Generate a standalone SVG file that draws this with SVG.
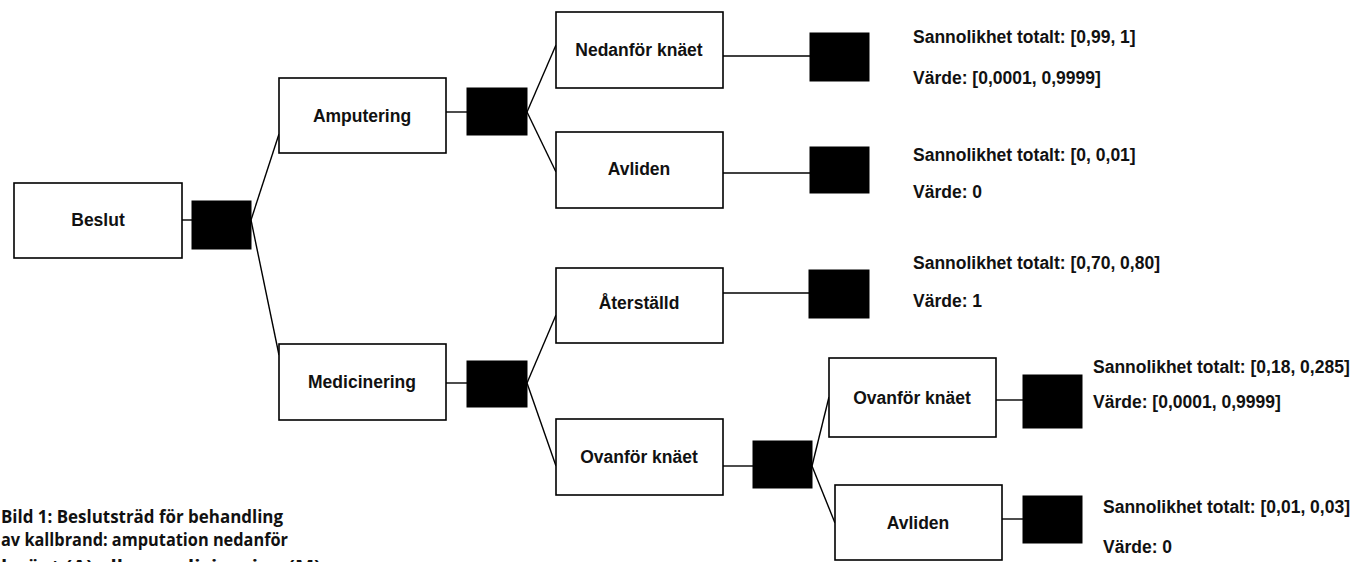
<svg xmlns="http://www.w3.org/2000/svg" width="1359" height="562" viewBox="0 0 1359 562">
<style>
.box{fill:#fff;stroke:#000;stroke-width:1.6}
.sq{fill:#000;stroke:#000;stroke-width:1}
.lbl{font-family:"Liberation Sans",Arial,sans-serif;font-weight:bold;font-size:17.5px;fill:#111;text-anchor:middle}
.info{font-family:"Liberation Sans",Arial,sans-serif;font-weight:bold;font-size:17.5px;fill:#111}
.cap{font-family:"Open Sans","Noto Sans",sans-serif;font-weight:bold;font-size:18.5px;fill:#111}
.con{stroke:#000;stroke-width:1.4;fill:none}
</style>
<rect width="1359" height="562" fill="#fff"/>
<g id="connectors">
<line class="con" x1="182" y1="220" x2="192" y2="220"/>
<line class="con" x1="251" y1="220" x2="279" y2="134"/>
<line class="con" x1="251" y1="220" x2="279" y2="355"/>
<line class="con" x1="446" y1="112" x2="467" y2="112"/>
<line class="con" x1="527" y1="112" x2="556" y2="45"/>
<line class="con" x1="527" y1="112" x2="556" y2="172"/>
<line class="con" x1="723" y1="56" x2="810" y2="56"/>
<line class="con" x1="723" y1="173" x2="810" y2="173"/>
<line class="con" x1="446" y1="383" x2="467" y2="383"/>
<line class="con" x1="527" y1="383" x2="556" y2="315"/>
<line class="con" x1="527" y1="383" x2="556" y2="466"/>
<line class="con" x1="723" y1="293" x2="809" y2="293"/>
<line class="con" x1="723" y1="466" x2="753" y2="466"/>
<line class="con" x1="812" y1="466" x2="829" y2="397"/>
<line class="con" x1="812" y1="466" x2="835" y2="523"/>
<line class="con" x1="996" y1="400" x2="1023" y2="400"/>
<line class="con" x1="1002" y1="519" x2="1023" y2="519"/>
</g>
<g id="beslut">
<rect class="box" x="14" y="183" width="168" height="75"/>
<text class="lbl" x="98" y="226">Beslut</text>
</g>
<g id="chance-root"><rect class="sq" x="192" y="201" width="59" height="48"/></g>
<g id="amputering">
<rect class="box" x="279" y="78" width="167" height="75"/>
<text class="lbl" x="362" y="121.5">Amputering</text>
</g>
<g id="chance-amp"><rect class="sq" x="467" y="88" width="60" height="47"/></g>
<g id="nedanfor">
<rect class="box" x="556" y="12" width="167" height="76"/>
<text class="lbl" x="639" y="56">Nedanför knäet</text>
</g>
<g id="end-nedanfor"><rect class="sq" x="810" y="33" width="59" height="48"/></g>
<g id="avliden1">
<rect class="box" x="556" y="132" width="167" height="76"/>
<text class="lbl" x="639" y="175">Avliden</text>
</g>
<g id="end-avliden1"><rect class="sq" x="810" y="147" width="59" height="46"/></g>
<g id="medicinering">
<rect class="box" x="279" y="344" width="167" height="76"/>
<text class="lbl" x="362" y="388">Medicinering</text>
</g>
<g id="chance-med"><rect class="sq" x="467" y="361" width="60" height="46"/></g>
<g id="aterstalld">
<rect class="box" x="556" y="268" width="167" height="75"/>
<text class="lbl" x="639" y="309">Återställd</text>
</g>
<g id="end-aterstalld"><rect class="sq" x="809" y="270" width="60" height="48"/></g>
<g id="ovanfor1">
<rect class="box" x="556" y="419" width="167" height="76"/>
<text class="lbl" x="639" y="463">Ovanför knäet</text>
</g>
<g id="chance-ovan"><rect class="sq" x="753" y="441" width="59" height="47"/></g>
<g id="ovanfor2">
<rect class="box" x="829" y="358" width="167" height="79"/>
<text class="lbl" x="912" y="404">Ovanför knäet</text>
</g>
<g id="end-ovanfor2"><rect class="sq" x="1023" y="375" width="59" height="53"/></g>
<g id="avliden2">
<rect class="box" x="835" y="485" width="167" height="75"/>
<text class="lbl" x="918" y="529">Avliden</text>
</g>
<g id="end-avliden2"><rect class="sq" x="1023" y="496" width="59" height="47"/></g>
<g id="values">
<text class="info" x="913" y="43">Sannolikhet totalt: [0,99, 1]</text>
<text class="info" x="913" y="84">Värde: [0,0001, 0,9999]</text>
<text class="info" x="913" y="161">Sannolikhet totalt: [0, 0,01]</text>
<text class="info" x="913" y="198">Värde: 0</text>
<text class="info" x="913" y="269">Sannolikhet totalt: [0,70, 0,80]</text>
<text class="info" x="913" y="307">Värde: 1</text>
<text class="info" x="1093" y="373">Sannolikhet totalt: [0,18, 0,285]</text>
<text class="info" x="1093" y="408">Värde: [0,0001, 0,9999]</text>
<text class="info" x="1103" y="513">Sannolikhet totalt: [0,01, 0,03]</text>
<text class="info" x="1103" y="553">Värde: 0</text>
</g>
<g id="caption">
<text class="cap" x="1" y="523" textLength="282" lengthAdjust="spacingAndGlyphs">Bild 1: Beslutsträd för behandling</text>
<text class="cap" x="1" y="546" textLength="287" lengthAdjust="spacingAndGlyphs">av kallbrand: amputation nedanför</text>
<text class="cap" x="1" y="573" textLength="320" lengthAdjust="spacingAndGlyphs">knäet (A) eller medicinering (M)</text>
</g>
</svg>
